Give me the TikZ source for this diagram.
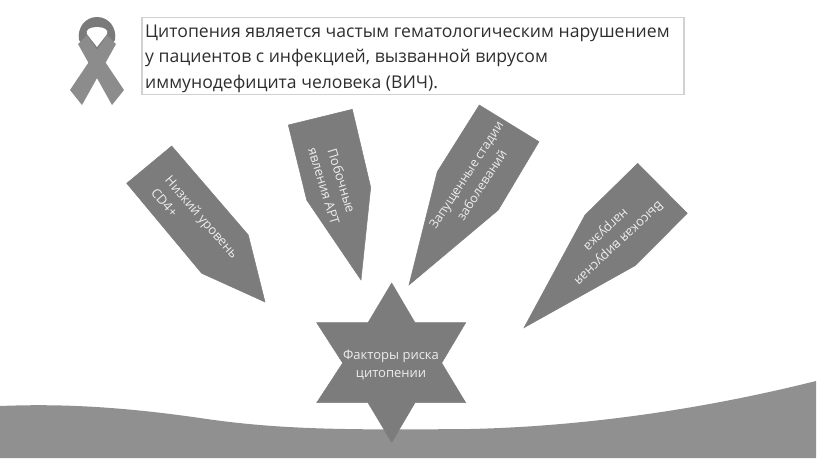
\documentclass[tikz,border=0pt]{standalone}
\usepackage{fontspec}
\setmainfont{Open Sans}
\usepackage{xcolor}
\usetikzlibrary{positioning}
\definecolor{bladegray}{HTML}{7C7C7C}
\definecolor{wavegray}{HTML}{909090}
\definecolor{ribbongray}{HTML}{8C8C8C}
\definecolor{labelgray}{HTML}{EDEDED}
\tikzstyle{blade} = [fill=bladegray, draw=bladegray, line width=0.5pt, line join=miter]
\tikzstyle{bladetext} = [text=labelgray, align=center, inner sep=0pt, font=\fontsize{13}{18.5}\selectfont]
\tikzstyle{introbox} = [rectangle, draw=black!18, line width=1.2pt, minimum width=542pt, minimum height=77pt, inner sep=0pt]
\begin{document}
\begin{tikzpicture}[x=1pt, y=-1pt]
    \useasboundingbox (0,0) rectangle (817,459);
    \fill[wavegray] (0,406) .. controls (50,404) and (110,405) .. (200,418) .. controls (280,430) and (350,430) .. (470,429) .. controls (560,427) and (680,415) .. (816,381) -- (816,458) -- (0,458) -- cycle;

    \fill[black!52] (97,17) .. controls (85,17) and (77,28) .. (79,40) -- (97,62) -- (115,40) .. controls (117,28) and (109,17) .. (97,17) -- cycle;
    \fill[ribbongray] (87,35) -- (124,90) -- (112,105) -- (78,44) -- cycle;
    \fill[ribbongray] (107,35) -- (70,90) -- (82,105) -- (116,44) -- cycle;
    \fill[white] (97,27) .. controls (90,27) and (85,30) .. (87,34) -- (97,47) -- (107,34) .. controls (109,30) and (104,27) .. (97,27) -- cycle;

    \node[introbox] (intro) at (413,56) {};
    \node[anchor=west, align=left, inner sep=0pt, text=black!82, font=\fontsize{17.6}{25.5}\selectfont] (introtext) at (145,58.5) {Цитопения является частым гематологическим нарушением\\у пациентов с инфекцией, вызванной вирусом\\иммунодефицита человека (ВИЧ).};

    \fill[blade] (171.7,146) -- (126.7,183.3) -- (201.7,273.3) -- (265,302) -- (248.3,235) -- cycle;
    \fill[blade] (288.3,125) -- (352.3,109.3) -- (370.7,187.3) -- (361,280) -- (306.7,200) -- cycle;
    \fill[blade] (479.3,105) -- (539,141.7) -- (498.3,210) -- (409,285) -- (437.3,171.7) -- cycle;
    \fill[blade] (637.7,163.3) -- (687.3,213.3) -- (635,265.7) -- (524,327.7) -- (585,215) -- cycle;
    \fill[blade] (391.7,283) -- (415,322.7) -- (465.7,322.7) -- (441.7,363) -- (465.7,402.7) -- (415,402.7) -- (391.7,442.3) -- (368,402.7) -- (316.7,402.7) -- (342.7,363) -- (316.7,322.7) -- (368,322.7) -- cycle;

    \node[bladetext, align=left, rotate=-49] (lowcd) at (195,223) {Низкий уровень\\CD4+};
    \node[bladetext, rotate=-73] (sideeffects) at (333,183.5) {Побочные\\явления АРТ};
    \node[bladetext, font=\fontsize{12.6}{18.5}\selectfont, rotate=57] (latestage) at (474,180) {Запущенные стадии\\заболеваний};
    \node[bladetext, rotate=223] (viralload) at (612,236) {Высокая вирусная\\нагрузка};
    \node[bladetext] (riskstar) at (391,365) {Факторы риска\\цитопении};
\end{tikzpicture}
\end{document}
